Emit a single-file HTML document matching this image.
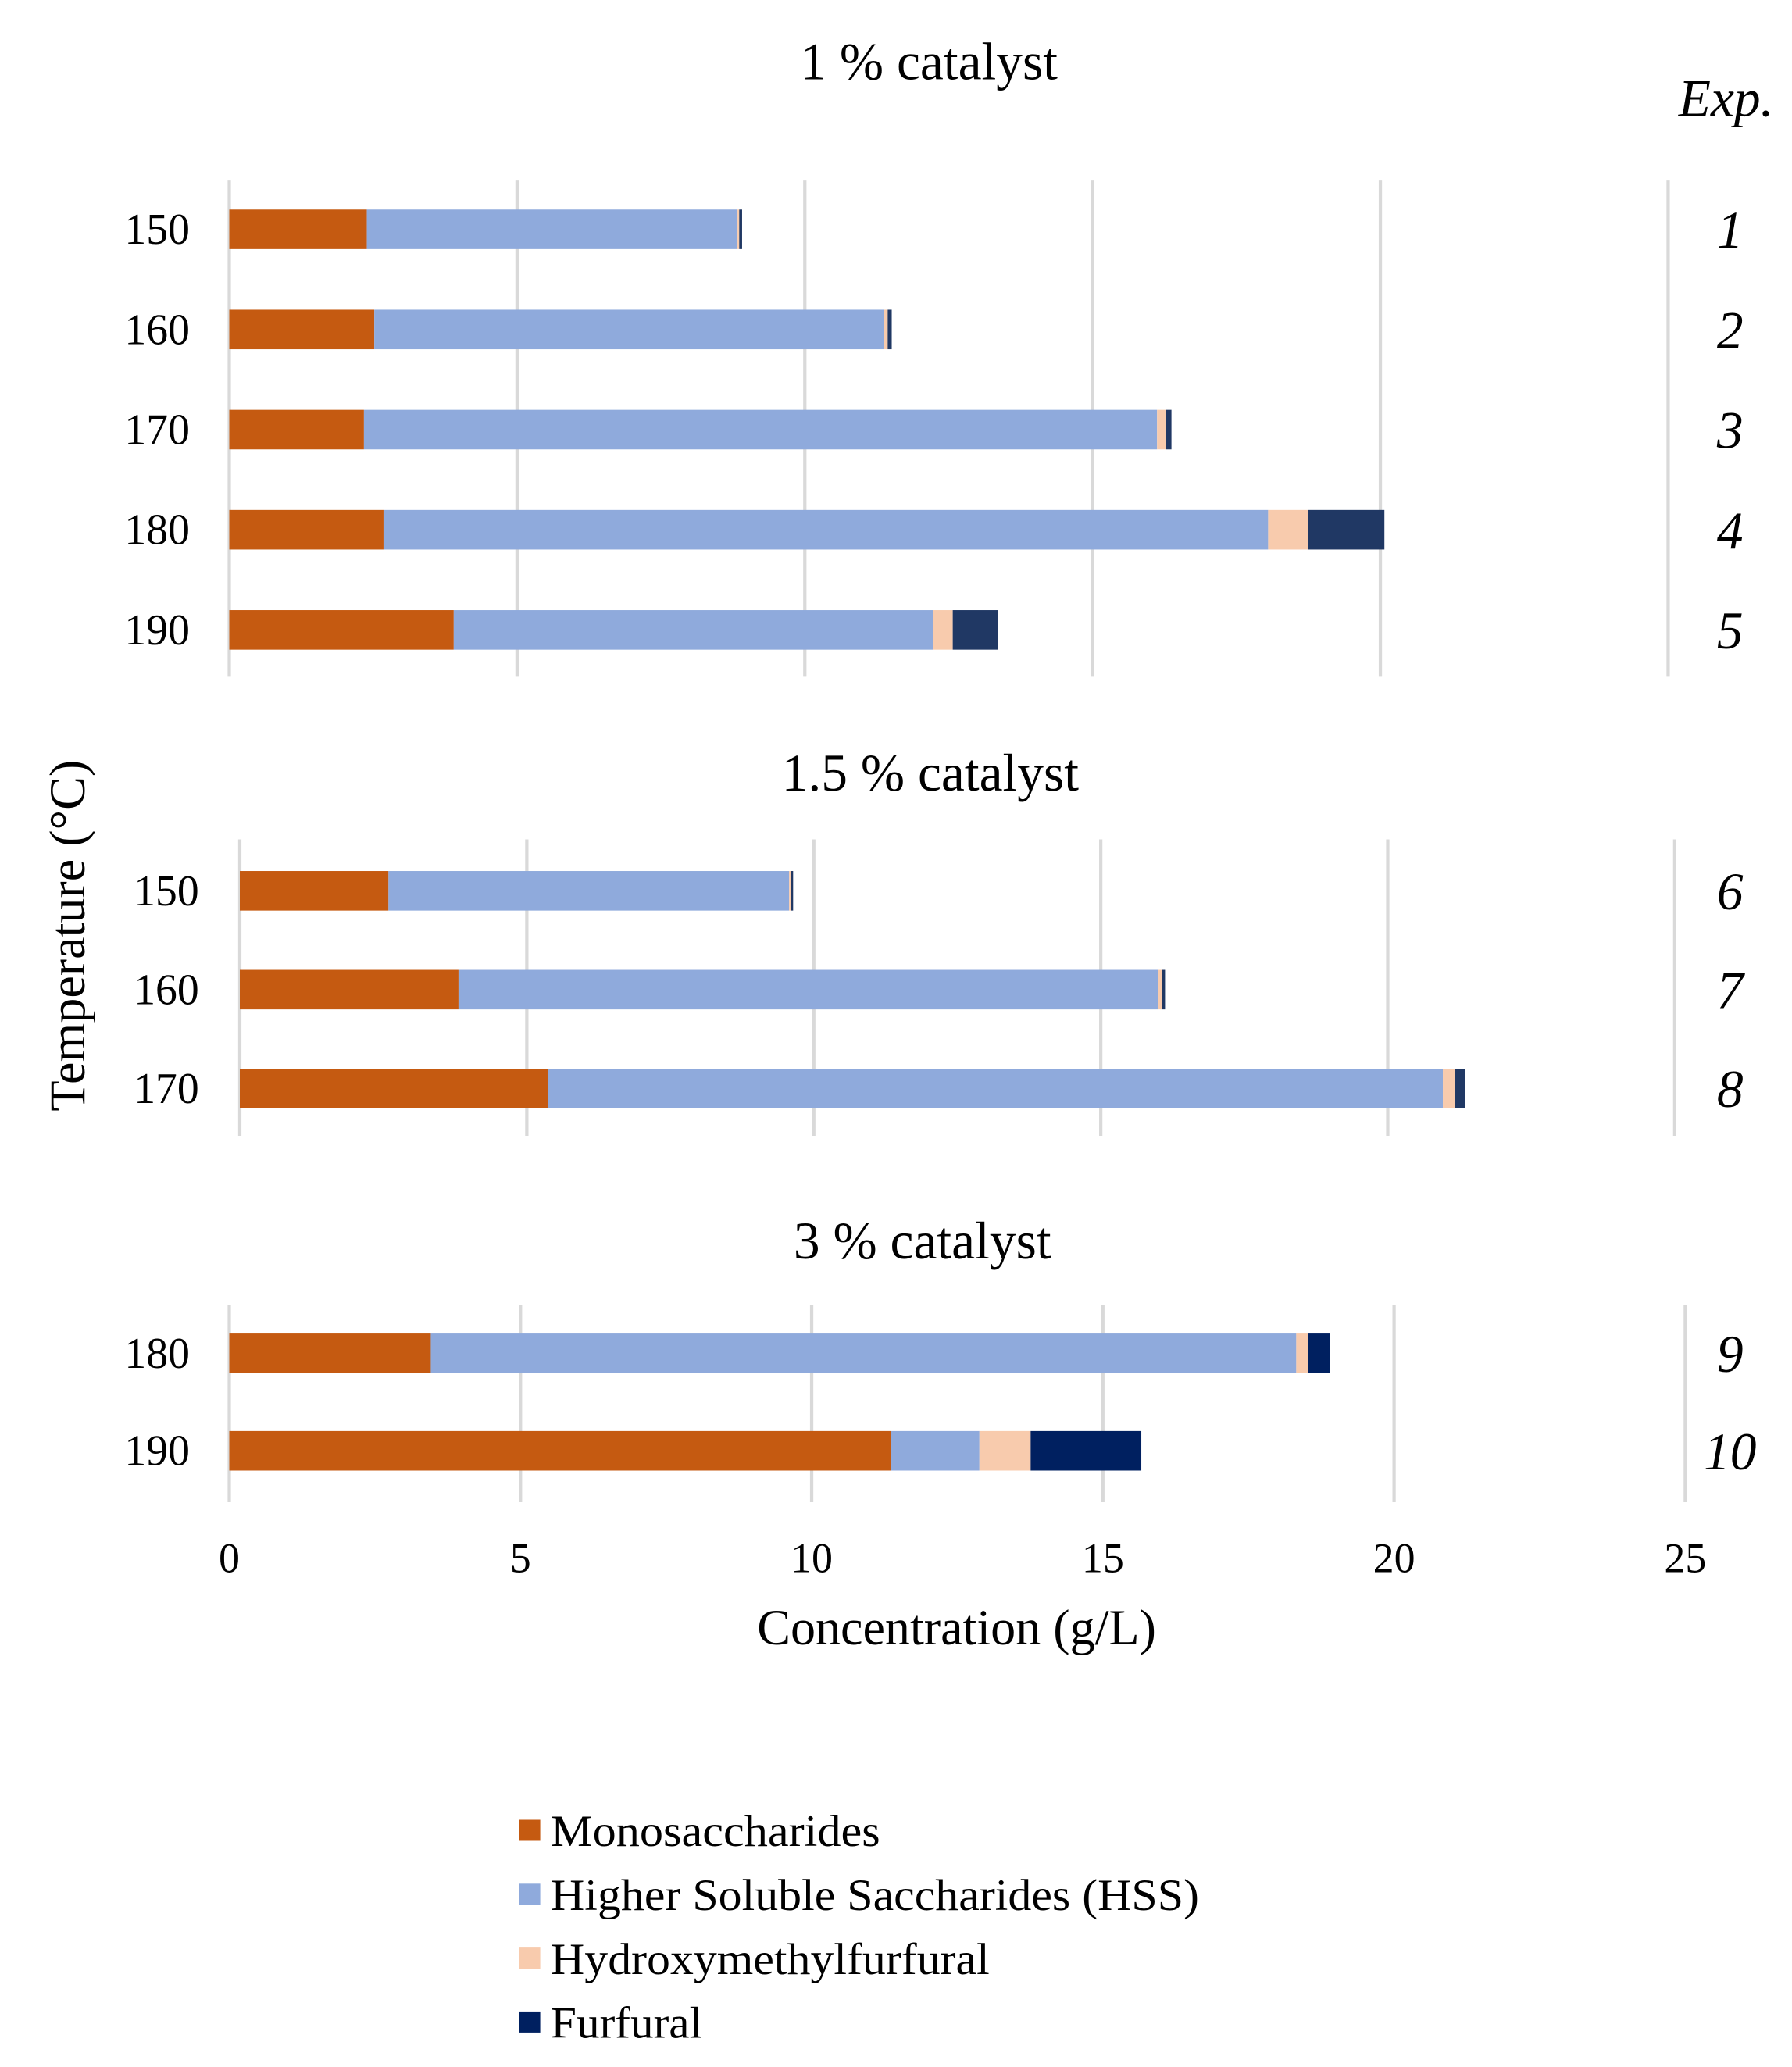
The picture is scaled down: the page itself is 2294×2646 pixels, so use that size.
<!DOCTYPE html>
<html><head><meta charset="utf-8"><style>
html,body{margin:0;padding:0;background:#fff;}
svg{display:block;font-family:"Liberation Serif",serif;}
</style></head><body>
<svg id="chart" width="2294" height="2646" viewBox="0 0 1360 1568.6" xmlns="http://www.w3.org/2000/svg">
<g id="root"></g>
</svg>
<script>
// Data
const seriesNames = ["Monosaccharides","Higher Soluble Saccharides (HSS)","Hydroxymethylfurfural","Furfural"];
const panelTitles = ["1 % catalyst","1.5 % catalyst","3 % catalyst"];
const temps1 = ["150","160","170","180","190"];
const temps2 = ["150","160","170"];
const temps3 = ["180","190"];
const exps1 = ["1","2","3","4","5"];
const exps2 = ["6","7","8"];
const exps3 = ["9","10"];
const mono1 = [2.39,2.52,2.34,2.68,3.90];
const hss1  = [6.44,8.85,13.78,15.37,8.33];
const hmf1  = [0.03,0.07,0.16,0.69,0.34];
const fur1  = [0.05,0.07,0.09,1.33,0.78];
const mono2 = [2.59,3.81,5.37];
const hss2  = [6.98,12.19,15.59];
const hmf2  = [0.03,0.07,0.21];
const fur2  = [0.04,0.05,0.18];
const mono3 = [3.46,11.36];
const hss3  = [14.86,1.52];
const hmf3  = [0.20,0.88];
const fur3  = [0.38,1.90];
const xTicks = ["0","5","10","15","20","25"];

const NS="http://www.w3.org/2000/svg";
const root=document.getElementById('root');
function mk(tag,attrs,parent,text){const e=document.createElementNS(NS,tag);for(const k in attrs)e.setAttribute(k,attrs[k]);if(text!==undefined)e.textContent=text;(parent||root).appendChild(e);return e;}
const colors1=["#C55A11","#8FAADC","#F8CBAD","#203864"];
const colors3=["#C55A11","#8FAADC","#F8CBAD","#002060"];

const panels=[
 {x0:174,x25:1266,yTop:137,yBot:513,yFirst:174,step:76,labX:144,temps:temps1,exps:exps1,vals:[mono1,hss1,hmf1,fur1],colors:colors1,title:panelTitles[0],titleX:705,titleY:60},
 {x0:182,x25:1271,yTop:637,yBot:862,yFirst:676,step:75,labX:151,temps:temps2,exps:exps2,vals:[mono2,hss2,hmf2,fur2],colors:colors1,title:panelTitles[1],titleX:706,titleY:600},
 {x0:174,x25:1279,yTop:990,yBot:1140,yFirst:1027,step:74,labX:144,temps:temps3,exps:exps3,vals:[mono3,hss3,hmf3,fur3],colors:colors3,title:panelTitles[2],titleX:700,titleY:955}
];
panels.forEach((p,pi)=>{
  const g=mk('g',{});
  
  
  const xs=v=>p.x0+v*(p.x25-p.x0)/25;
  for(let i=0;i<=5;i++){
    const l=mk('line',{x1:xs(i*5),x2:xs(i*5),y1:p.yTop,y2:p.yBot,stroke:"#d9d9d9","stroke-width":2.5},g);
    
    
  }
  const t=mk('text',{x:p.titleX,y:p.titleY,"text-anchor":"middle","font-size":40},g,p.title);
  
  
  p.temps.forEach((tp,i)=>{
    const yc=p.yFirst+i*p.step;
    const lab=mk('text',{x:p.labX,y:yc+11,"text-anchor":"end","font-size":33},g,tp);
    
    
    const ex=mk('text',{x:1313,y:yc+14,"text-anchor":"middle","font-size":40,"font-style":"italic"},g,p.exps[i]);
    
    
    let acc=0;
    p.vals.forEach((arr,si)=>{
      const v=arr[i];
      const r=mk('rect',{x:xs(acc),y:yc-15,width:Math.max(xs(acc+v)-xs(acc),1.2),height:30,fill:p.colors[si]},g);
      
      
      acc+=v;
    });
  });
});
xTicks.forEach((tk,i)=>{
  const x=174+i*(1279-174)/5;
  const t=mk('text',{x:x,y:1193,"text-anchor":"middle","font-size":32},root,tk);
  
  
});
const xt=mk('text',{x:726,y:1248,"text-anchor":"middle","font-size":38},root,"Concentration (g/L)");


const yt=mk('text',{x:0,y:0,"text-anchor":"middle","font-size":38,transform:"translate(64,710) rotate(-90)"},root,"Temperature (°C)");


const et=mk('text',{x:1310,y:88,"text-anchor":"middle","font-size":40,"font-style":"italic"},root,"Exp.");


const legColors=["#C55A11","#8FAADC","#F8CBAD","#002060"];
const legW=[250,492,333,115];
seriesNames.forEach((n,i)=>{
  const y=1390+i*48.5;
  const g=mk('g',{});
  
  
  mk('rect',{x:394,y:y-9,width:16,height:16,fill:legColors[i]},g);
  mk('text',{x:418,y:y+11,"font-size":34,textLength:legW[i],lengthAdjust:"spacingAndGlyphs"},g,n);
});
</script>
</body></html>
